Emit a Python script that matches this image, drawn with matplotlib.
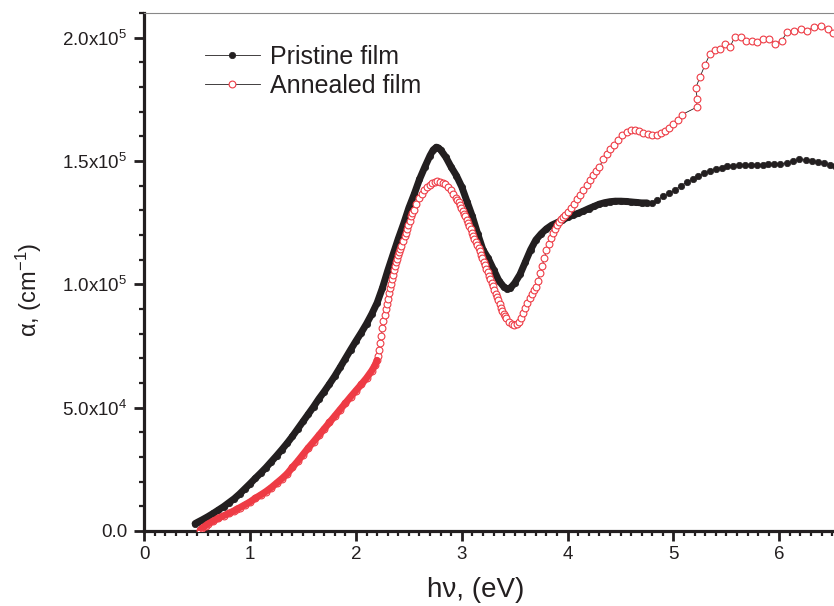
import numpy as np
import matplotlib
matplotlib.use('Agg')
from matplotlib import pyplot as plt
from matplotlib.ticker import MultipleLocator, FixedLocator, FixedFormatter

plt.rcParams['font.family'] = ['Liberation Sans', 'DejaVu Sans']
plt.rcParams['mathtext.fontset'] = 'custom'
plt.rcParams['mathtext.rm'] = 'Liberation Sans'
plt.rcParams['mathtext.it'] = 'Liberation Sans:italic'
plt.rcParams['mathtext.default'] = 'regular'

# photon energy (eV) and absorption coefficient (x1e5 cm^-1)
pristine_E = [0.48, 0.51, 0.55, 0.60, 0.65, 0.70, 0.75, 0.80, 0.85, 0.90,
              0.95, 1.00, 1.05, 1.10, 1.15, 1.20, 1.25, 1.30, 1.35, 1.40,
              1.45, 1.50, 1.55, 1.60, 1.65, 1.70, 1.75, 1.80, 1.85, 1.90,
              1.95, 2.00, 2.05, 2.10, 2.15, 2.20, 2.25, 2.30, 2.35, 2.40,
              2.45, 2.50, 2.55, 2.60, 2.65, 2.70, 2.73, 2.76, 2.78, 2.80,
              2.85, 2.90, 2.95, 3.00, 3.05, 3.10, 3.15, 3.20, 3.25, 3.30,
              3.35, 3.40, 3.43, 3.46, 3.50, 3.55, 3.60, 3.65, 3.70, 3.75,
              3.80, 3.85, 3.90, 3.95, 4.00, 4.05, 4.10, 4.15, 4.20, 4.25,
              4.30, 4.35, 4.40, 4.45, 4.50, 4.55, 4.60, 4.65, 4.70, 4.75,
              4.794, 4.847, 4.904, 4.961, 5.014, 5.068, 5.125, 5.181, 5.234, 5.288,
              5.345, 5.401, 5.455, 5.508, 5.565, 5.621, 5.675, 5.732, 5.785, 5.842,
              5.895, 5.952, 6.006, 6.069, 6.125, 6.188, 6.248, 6.311, 6.368, 6.421,
              6.478, 6.53]
pristine_a = [0.030, 0.037, 0.046, 0.058, 0.071, 0.085, 0.099, 0.115, 0.131, 0.150,
              0.171, 0.192, 0.214, 0.235, 0.257, 0.281, 0.305, 0.330, 0.356, 0.384,
              0.414, 0.444, 0.474, 0.504, 0.536, 0.565, 0.596, 0.628, 0.663, 0.699,
              0.735, 0.770, 0.804, 0.840, 0.880, 0.925, 0.985, 1.055, 1.120, 1.185,
              1.245, 1.310, 1.365, 1.425, 1.475, 1.522, 1.545, 1.556, 1.553, 1.545,
              1.515, 1.475, 1.440, 1.395, 1.335, 1.275, 1.205, 1.140, 1.105, 1.060,
              1.015, 0.988, 0.982, 0.985, 1.005, 1.040, 1.090, 1.140, 1.180, 1.205,
              1.225, 1.240, 1.250, 1.260, 1.272, 1.280, 1.288, 1.297, 1.307, 1.316,
              1.325, 1.331, 1.335, 1.337, 1.337, 1.336, 1.334, 1.332, 1.330, 1.330,
              1.331, 1.342, 1.356, 1.369, 1.383, 1.399, 1.414, 1.427, 1.440, 1.450,
              1.460, 1.468, 1.473, 1.479, 1.481, 1.483, 1.485, 1.485, 1.485, 1.485,
              1.487, 1.487, 1.488, 1.492, 1.499, 1.506, 1.504, 1.500, 1.495, 1.491,
              1.485, 1.480]

annealed_E = [0.53, 0.55, 0.58, 0.60, 0.65, 0.70, 0.75, 0.80, 0.85, 0.88,
              0.90, 0.95, 1.00, 1.05, 1.10, 1.15, 1.20, 1.25, 1.30, 1.35,
              1.40, 1.45, 1.50, 1.55, 1.60, 1.65, 1.70, 1.75, 1.80, 1.85,
              1.90, 1.95, 2.00, 2.05, 2.10, 2.15, 2.18, 2.20,
              2.21, 2.22, 2.23, 2.24, 2.25, 2.26, 2.27, 2.28, 2.29, 2.30,
              2.31, 2.32, 2.33, 2.34, 2.35, 2.36, 2.37, 2.38, 2.39, 2.40,
              2.41, 2.42, 2.43, 2.445, 2.46, 2.47, 2.483, 2.495, 2.508, 2.52,
              2.533, 2.545, 2.57, 2.595, 2.62, 2.645, 2.67, 2.695, 2.72, 2.745,
              2.77, 2.795, 2.82, 2.845, 2.87, 2.895, 2.92, 2.945, 2.958, 2.97,
              2.983, 2.995, 3.008, 3.02, 3.033, 3.045, 3.058, 3.07, 3.083, 3.095,
              3.108, 3.12, 3.133, 3.145, 3.158, 3.17, 3.183, 3.195, 3.208, 3.22,
              3.233, 3.245, 3.258, 3.27, 3.283, 3.295, 3.308, 3.32, 3.333, 3.345,
              3.358, 3.37, 3.383, 3.395, 3.408, 3.42, 3.445, 3.47, 3.495, 3.52,
              3.54, 3.56, 3.58, 3.60, 3.62, 3.64, 3.66, 3.68, 3.70, 3.72,
              3.74, 3.76, 3.78, 3.80, 3.82, 3.84, 3.86, 3.88, 3.90, 3.92,
              3.94, 3.96, 3.98, 4.00, 4.03, 4.06, 4.09, 4.12, 4.15, 4.18,
              4.21, 4.24, 4.27, 4.30,
              4.337, 4.369, 4.400, 4.438, 4.479, 4.517, 4.558, 4.596, 4.636, 4.677,
              4.715, 4.762, 4.800, 4.841, 4.882, 4.920, 4.960, 4.998, 5.040, 5.077,
              5.219, 5.225, 5.210, 5.250, 5.300, 5.345, 5.392, 5.439, 5.486, 5.533,
              5.581, 5.634, 5.682, 5.738, 5.791, 5.848, 5.905, 5.959, 6.022, 6.075,
              6.138, 6.201, 6.264, 6.327, 6.390, 6.462, 6.509]
annealed_a = [0.003, 0.012, 0.022, 0.028, 0.040, 0.052, 0.062, 0.072, 0.082, 0.090,
              0.094, 0.106, 0.118, 0.133, 0.146, 0.160, 0.176, 0.194, 0.212, 0.232,
              0.258, 0.283, 0.310, 0.337, 0.362, 0.388, 0.414, 0.440, 0.466, 0.492,
              0.518, 0.544, 0.569, 0.594, 0.620, 0.650, 0.672, 0.692,
              0.710, 0.735, 0.762, 0.792, 0.822, 0.851, 0.875, 0.898, 0.920, 0.942,
              0.963, 0.985, 1.003, 1.021, 1.039, 1.057, 1.075, 1.089, 1.103, 1.117,
              1.130, 1.143, 1.157, 1.177, 1.197, 1.210, 1.226, 1.240, 1.258, 1.275,
              1.288, 1.300, 1.325, 1.350, 1.365, 1.381, 1.394, 1.402, 1.410, 1.414,
              1.417, 1.416, 1.412, 1.405, 1.395, 1.381, 1.365, 1.348, 1.340, 1.332,
              1.321, 1.310, 1.299, 1.287, 1.275, 1.262, 1.250, 1.237, 1.224, 1.210,
              1.197, 1.185, 1.172, 1.160, 1.148, 1.135, 1.120, 1.105, 1.092, 1.078,
              1.064, 1.050, 1.035, 1.020, 1.006, 0.993, 0.978, 0.962, 0.948, 0.935,
              0.920, 0.905, 0.892, 0.880, 0.870, 0.862, 0.848, 0.838, 0.836, 0.840,
              0.849, 0.864, 0.882, 0.905, 0.925, 0.943, 0.960, 0.978, 0.990, 1.015,
              1.045, 1.075, 1.108, 1.138, 1.165, 1.188, 1.208, 1.226, 1.240, 1.252,
              1.263, 1.273, 1.282, 1.293, 1.309, 1.327, 1.344, 1.362, 1.382, 1.403,
              1.423, 1.443, 1.460, 1.476,
              1.507, 1.529, 1.548, 1.565, 1.586, 1.606, 1.619, 1.626, 1.626, 1.622,
              1.615, 1.609, 1.605, 1.606, 1.613, 1.623, 1.635, 1.650, 1.667, 1.687,
              1.718, 1.753, 1.795, 1.840, 1.891, 1.934, 1.951, 1.953, 1.974, 1.961,
              2.004, 2.004, 1.988, 1.988, 1.984, 1.994, 1.995, 1.975, 1.988, 2.022,
              2.028, 2.034, 2.025, 2.045, 2.048, 2.034, 2.018]

yticks = [0, 0.5e5, 1.0e5, 1.5e5, 2.0e5]
ytick_labels = ['0.0', '5.0x10$^4$', '1.0x10$^5$', '1.5x10$^5$', '2.0x10$^5$']

ink = '#231f20'
red = '#ee3b45'

pE = np.array(pristine_E)
pa = np.array(pristine_a) * 1e5
aE = np.array(annealed_E)
aa = np.array(annealed_a) * 1e5

fig = plt.figure(figsize=(8.34, 6.06), dpi=100)
ax = fig.add_axes([0.173, 0.1238, 0.827, 0.8548])

# dense part of the scans shows as a solid band
dense_p = pE <= 4.75
ax.plot(pE[dense_p], pa[dense_p], '-', color=ink, lw=5.0, solid_capstyle='round', zorder=2)
ax.plot(pE, pa, '-o', color=ink, lw=0.6, ms=4.6, mfc=ink, mec=ink, mew=0.5,
        label='Pristine film', zorder=2)
ax.plot(aE, aa, '-o', color=ink, lw=0.6, ms=4.9, mfc='white', mec=red, mew=0.8,
        label='Annealed film', zorder=3)
dense_a = aE <= 2.2
ax.plot(aE[dense_a], aa[dense_a], '-', color=red, lw=5.0, solid_capstyle='round', zorder=4)

ax.set_xlim(0, 6.517)
ax.set_ylim(0, 2.1e5)
ax.xaxis.set_major_locator(MultipleLocator(1))
ax.xaxis.set_minor_locator(MultipleLocator(0.1))
ax.yaxis.set_major_locator(FixedLocator(yticks))
ax.yaxis.set_major_formatter(FixedFormatter(ytick_labels))
ax.yaxis.set_minor_locator(MultipleLocator(1e4))

for s in ['left', 'bottom']:
    ax.spines[s].set_linewidth(2.3)
    ax.spines[s].set_color(ink)
ax.spines['top'].set_linewidth(0.8)
ax.spines['top'].set_color('#888888')
ax.spines['right'].set_visible(False)

ax.tick_params(which='major', direction='out', length=7, width=2.0, color=ink,
               labelsize=13.5, labelcolor=ink, pad=4)
ax.tick_params(which='minor', direction='out', length=3.5, width=1.6, color=ink)
ax.tick_params(axis='y', which='major', pad=5)

ax.set_xlabel('h\u03bd, (eV)', fontsize=20, color=ink)
ax.xaxis.set_label_coords(0.48, -0.088)
ax.set_ylabel('\u03b1, (cm$^{-1}$)', fontsize=17, color=ink)
ax.yaxis.set_label_coords(-0.146, 0.465)

leg = ax.legend(loc='upper left', bbox_to_anchor=(192 / 834, 1 - 32 / 606),
                bbox_transform=fig.transFigure, frameon=False, fontsize=18,
                handlelength=2.2, handletextpad=0.4, labelspacing=0.22,
                borderpad=0, numpoints=1)
for t in leg.get_texts():
    t.set_color(ink)

plt.savefig('out.png', dpi=100)
